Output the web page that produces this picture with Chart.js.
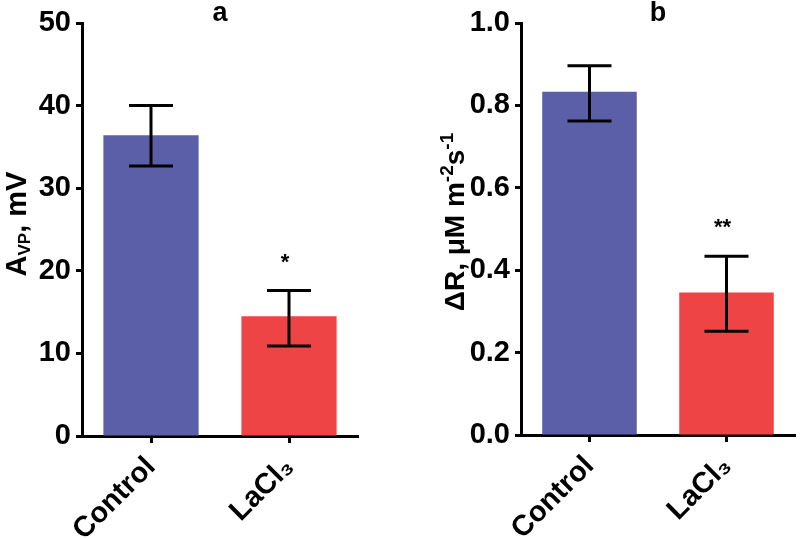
<!DOCTYPE html>
<html>
<head>
<meta charset="utf-8">
<script src="https://cdn.jsdelivr.net/npm/chart.js@4"></script>
<style>
  html, body { margin: 0; padding: 0; background: #fff; }
  #wrap { position: relative; width: 800px; height: 539px; }
  canvas { position: absolute; top: 0; }
</style>
</head>
<body>
<div id="wrap">
  <canvas id="chartA" width="400" height="539" style="left:0"></canvas>
  <canvas id="chartB" width="400" height="539" style="left:400px"></canvas>
</div>
<script>
// categories and colours
const groups = ['Control', 'LaCl₃'];
const barColors = ['#5a5fa8', '#ef4446'];

// panel a: amplitude of VP, mV (mean, lower / upper end of error bar)
const avpMean = [36.4, 14.5];
const avpLow = [32.7, 10.9];
const avpHigh = [40.0, 17.6];
const avpStars = ['', '*'];
const avpTicks = [0, 10, 20, 30, 40, 50];

// panel b: delta R, uM m-2 s-1
const drMean = [0.833, 0.346];
const drLow = [0.762, 0.252];
const drHigh = [0.896, 0.434];
const drStars = ['', '**'];
const drTicks = [0, 0.2, 0.4, 0.6, 0.8, 1.0];

const FONT = "'Liberation Sans', Arial, Helvetica, sans-serif";
Chart.defaults.font.family = FONT;
Chart.defaults.color = '#000';

// draws text made of runs with different sizes / baseline shifts, rotated -90deg
function drawRotatedRich(ctx, runs, x, y) {
  ctx.save();
  ctx.translate(x, y);
  ctx.rotate(-Math.PI / 2);
  ctx.textBaseline = 'alphabetic';
  ctx.textAlign = 'left';
  let total = 0;
  runs.forEach(r => {
    ctx.font = 'bold ' + r.size + 'px ' + FONT;
    r.w = ctx.measureText(r.t).width;
    total += r.w;
  });
  let cx = -total / 2;
  runs.forEach(r => {
    ctx.font = 'bold ' + r.size + 'px ' + FONT;
    ctx.fillText(r.t, cx, r.dy || 0);
    cx += r.w;
  });
  ctx.restore();
}

const errorBars = {
  id: 'errorBars',
  afterDatasetsDraw(chart, args, opts) {
    const ctx = chart.ctx;
    const xs = chart.scales.x, ys = chart.scales.y;
    ctx.save();
    ctx.strokeStyle = '#000';
    ctx.lineWidth = 3;
    opts.low.forEach((lo, i) => {
      const x = xs.getPixelForValue(i);
      const y1 = ys.getPixelForValue(lo);
      const y2 = ys.getPixelForValue(opts.high[i]);
      const half = 22;
      ctx.beginPath();
      ctx.moveTo(x, y1); ctx.lineTo(x, y2);
      ctx.moveTo(x - half, y1); ctx.lineTo(x + half, y1);
      ctx.moveTo(x - half, y2); ctx.lineTo(x + half, y2);
      ctx.stroke();
      if (opts.stars[i]) {
        ctx.fillStyle = '#000';
        ctx.font = 'bold 22px ' + FONT;
        ctx.textAlign = 'center';
        ctx.textBaseline = 'middle';
        ctx.fillText(opts.stars[i], x - 4, y2 - 28);
      }
    });
    ctx.restore();
  }
};

const panelText = {
  id: 'panelText',
  afterDraw(chart, args, opts) {
    const ctx = chart.ctx;
    const area = chart.chartArea;
    ctx.save();
    ctx.fillStyle = '#000';
    ctx.font = 'bold 27px ' + FONT;
    ctx.textAlign = 'center';
    ctx.textBaseline = 'middle';
    ctx.fillText(opts.letter, (area.left + area.right) / 2, 14);
    drawRotatedRich(ctx, opts.title, opts.titleX, opts.titleY);
    ctx.restore();
  }
};

function makeChart(id, means, ticks, tickFmt, yWidth, padRight, xHeight, plugOpts) {
  return new Chart(document.getElementById(id), {
    type: 'bar',
    data: {
      labels: groups,
      datasets: [{
        data: means,
        backgroundColor: barColors,
        borderWidth: 0,
        barPercentage: 0.69,
        categoryPercentage: 1
      }]
    },
    options: {
      responsive: false,
      animation: false,
      devicePixelRatio: 1,
      layout: { padding: { left: 0, right: padRight, top: 23, bottom: 0 } },
      plugins: {
        legend: { display: false },
        tooltip: { enabled: false },
        errorBars: plugOpts.err,
        panelText: plugOpts.text
      },
      scales: {
        x: {
          afterFit: s => { s.height = xHeight; },
          border: { display: true, color: '#000', width: 3 },
          grid: { display: true, offset: false, drawOnChartArea: false, drawTicks: true,
                  tickLength: 7, tickWidth: 3, tickColor: '#000' },
          ticks: { autoSkip: false, maxRotation: 45, minRotation: 45, padding: 7,
                   font: { size: 29, weight: 'bold' }, color: '#000' }
        },
        y: {
          min: ticks[0],
          max: ticks[ticks.length - 1],
          afterFit: s => { s.width = yWidth; },
          afterBuildTicks: s => { s.ticks = ticks.map(v => ({ value: v })); },
          border: { display: true, color: '#000', width: 3 },
          grid: { display: true, drawOnChartArea: false, drawTicks: true,
                  tickLength: 6, tickWidth: 3, tickColor: '#000' },
          ticks: { padding: 5, font: { size: 29, weight: 'bold' }, color: '#000',
                   callback: v => tickFmt(v) }
        }
      }
    },
    plugins: [errorBars, panelText]
  });
}

makeChart('chartA', avpMean, avpTicks, v => String(v), 82, 42, 103, {
  err: { low: avpLow, high: avpHigh, stars: avpStars },
  text: {
    letter: 'a', titleX: 26, titleY: 224,
    title: [
      { t: 'A', size: 29 },
      { t: 'VP', size: 17, dy: 4 },
      { t: ', mV', size: 29 }
    ]
  }
});

makeChart('chartB', drMean, drTicks, v => v.toFixed(1), 121, 5, 104, {
  err: { low: drLow, high: drHigh, stars: drStars },
  text: {
    letter: 'b', titleX: 64, titleY: 222,
    title: [
      { t: 'ΔR, μM m', size: 28 },
      { t: '-2', size: 19, dy: -11 },
      { t: 's', size: 28 },
      { t: '-1', size: 19, dy: -11 }
    ]
  }
});
</script>
</body>
</html>
